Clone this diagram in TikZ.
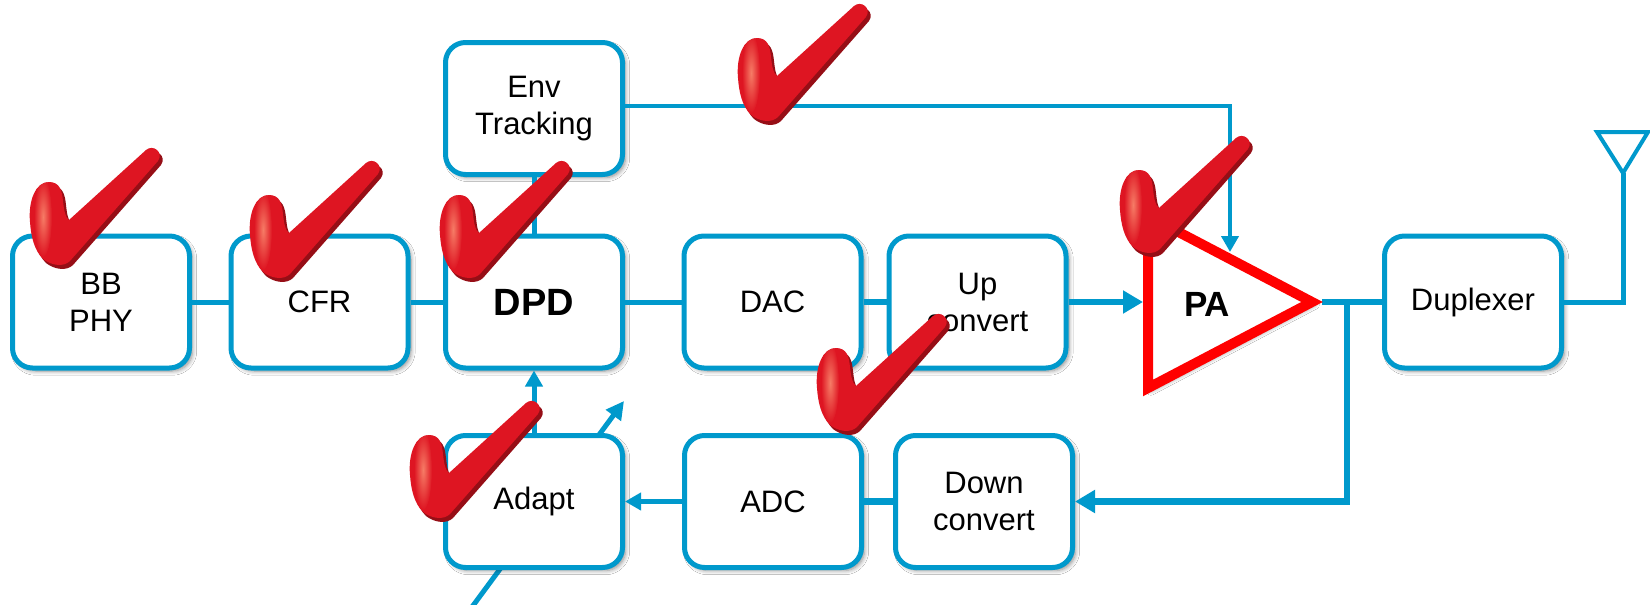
\documentclass[tikz,border=0pt]{standalone}
\usepackage{fontspec}
\setmainfont{Liberation Sans}
\usetikzlibrary{arrows.meta, shadows.blur}

\definecolor{linkblue}{RGB}{0,153,204}
\definecolor{pared}{RGB}{255,0,0}
\definecolor{tickred}{RGB}{222,21,34}
\definecolor{tickdark}{RGB}{150,14,22}
\definecolor{tickshine}{RGB}{246,124,102}

\newcommand{\tickpath}{(-30,-42) .. controls (-32,-64) and (-24,-82) .. (-11,-82)
    .. controls (0,-82) and (2,-73) .. (3,-63) .. controls (4,-54) and (5,-47) .. (9,-44)
    -- (86,-114) .. controls (93,-120) and (104,-112) .. (98,-103)
    -- (10,-3) .. controls (4,3) and (-8,2) .. (-17,-5)
    .. controls (-26,-14) and (-29,-28) .. cycle}

\tikzset{
    block/.style={draw=linkblue, line width=2.5pt, fill=white, rounded corners=10pt,
        minimum width=88.5pt, minimum height=66pt, inner sep=0pt, align=center,
        font=\fontsize{15.5}{18.5}\selectfont,
        blur shadow={shadow xshift=1.5pt, shadow yshift=-1.5pt, shadow blur steps=6, shadow opacity=45}},
    link/.style={draw=linkblue, line width=2.5pt},
    heavylink/.style={draw=linkblue, line width=3.2pt},
    thinlink/.style={draw=linkblue, line width=2pt},
    bighead/.style={-{Triangle[length=10pt, width=11pt]}},
    smallhead/.style={-{Triangle[length=8pt, width=8.5pt]}},
    tick/.pic={
        \fill[tickdark, shift={(3,4)}] \tickpath;
        \fill[tickred] \tickpath;
        \begin{scope}
            \clip \tickpath;
            \shade[inner color=tickshine, outer color=tickred] (-17,-47) ellipse [x radius=9, y radius=40];
        \end{scope}
    }
}

\begin{document}
\begin{tikzpicture}[x=0.5pt, y=-0.5pt]
    \fill[white] (0,0) rectangle (1650,605);
    \useasboundingbox (0,0) rectangle (1650,605);

    % adaptive arrow passes behind the Adapt block
    \coordinate (adj-a) at (472,607);
    \coordinate (adj-b) at (624,401);
    \draw[link, -{Triangle[length=9pt, width=9pt]}] (adj-a) -- (adj-b);

    \node[block] (bb)    at (101,302)   {BB\\PHY};
    \node[block] (cfr)   at (319.5,302) {CFR};
    \node[block, font=\bfseries\fontsize{19}{22}\selectfont] (dpd) at (534,302) {DPD};
    \node[block] (dac)   at (772.5,302) {DAC};
    \node[block] (up)    at (977.5,302) {Up\\convert};
    \node[block] (dup)   at (1473,302)  {Duplexer};
    \node[block] (env)   at (534,108.5) {Env\\Tracking};
    \node[block] (adapt) at (534,501.5) {Adapt};
    \node[block] (adc)   at (773,501.5) {ADC};
    \node[block] (down)  at (984,501.5) {Down\\convert};

    \coordinate (pa-in)  at (1143,302);
    \coordinate (pa-out) at (1322,302);
    \coordinate (pa-top) at (1230,252);
    \coordinate (tap)    at (1347,302);
    \coordinate (ant)    at (1623,173);

    \draw[link] (bb) -- (cfr);
    \draw[link] (cfr) -- (dpd);
    \draw[link] (dpd) -- (dac);
    \draw[heavylink] (dac) -- (up);
    \draw[heavylink, bighead] (up) -- (pa-in);
    \draw[link] (env) -- (dpd);
    \draw[thinlink, smallhead] ([yshift=1.5pt]env.east) -| (pa-top);
    \draw[heavylink] (pa-out) -- (dup);
    \draw[heavylink, bighead] (tap) |- (down.east);
    \draw[heavylink] (down) -- (adc);
    \draw[link, smallhead] (adc) -- (adapt);
    \draw[link, smallhead] (adapt) -- (dpd);
    \draw[link] (dup.east) -| (ant);
    \draw[thinlink, line join=miter] (1597,132) -- (1648,132) -- (ant) -- cycle;

    % power amplifier
    \draw[draw=pared, fill=white, line width=5pt,
        blur shadow={shadow xshift=1.5pt, shadow yshift=-1.5pt, shadow blur steps=6, shadow opacity=45}]
        (1148,216) -- (1312,302) -- (1148,388) -- cycle;
    \node[font=\bfseries\fontsize{17.5}{20}\selectfont] (pa) at (1207,304) {PA};

    \pic at (60,264)   {tick};
    \pic at (280,277)  {tick};
    \pic at (470,277)  {tick};
    \pic at (768,120)  {tick};
    \pic at (1150,252) {tick};
    \pic at (847,430)  {tick};
    \pic at (440,517)  {tick};
\end{tikzpicture}
\end{document}
